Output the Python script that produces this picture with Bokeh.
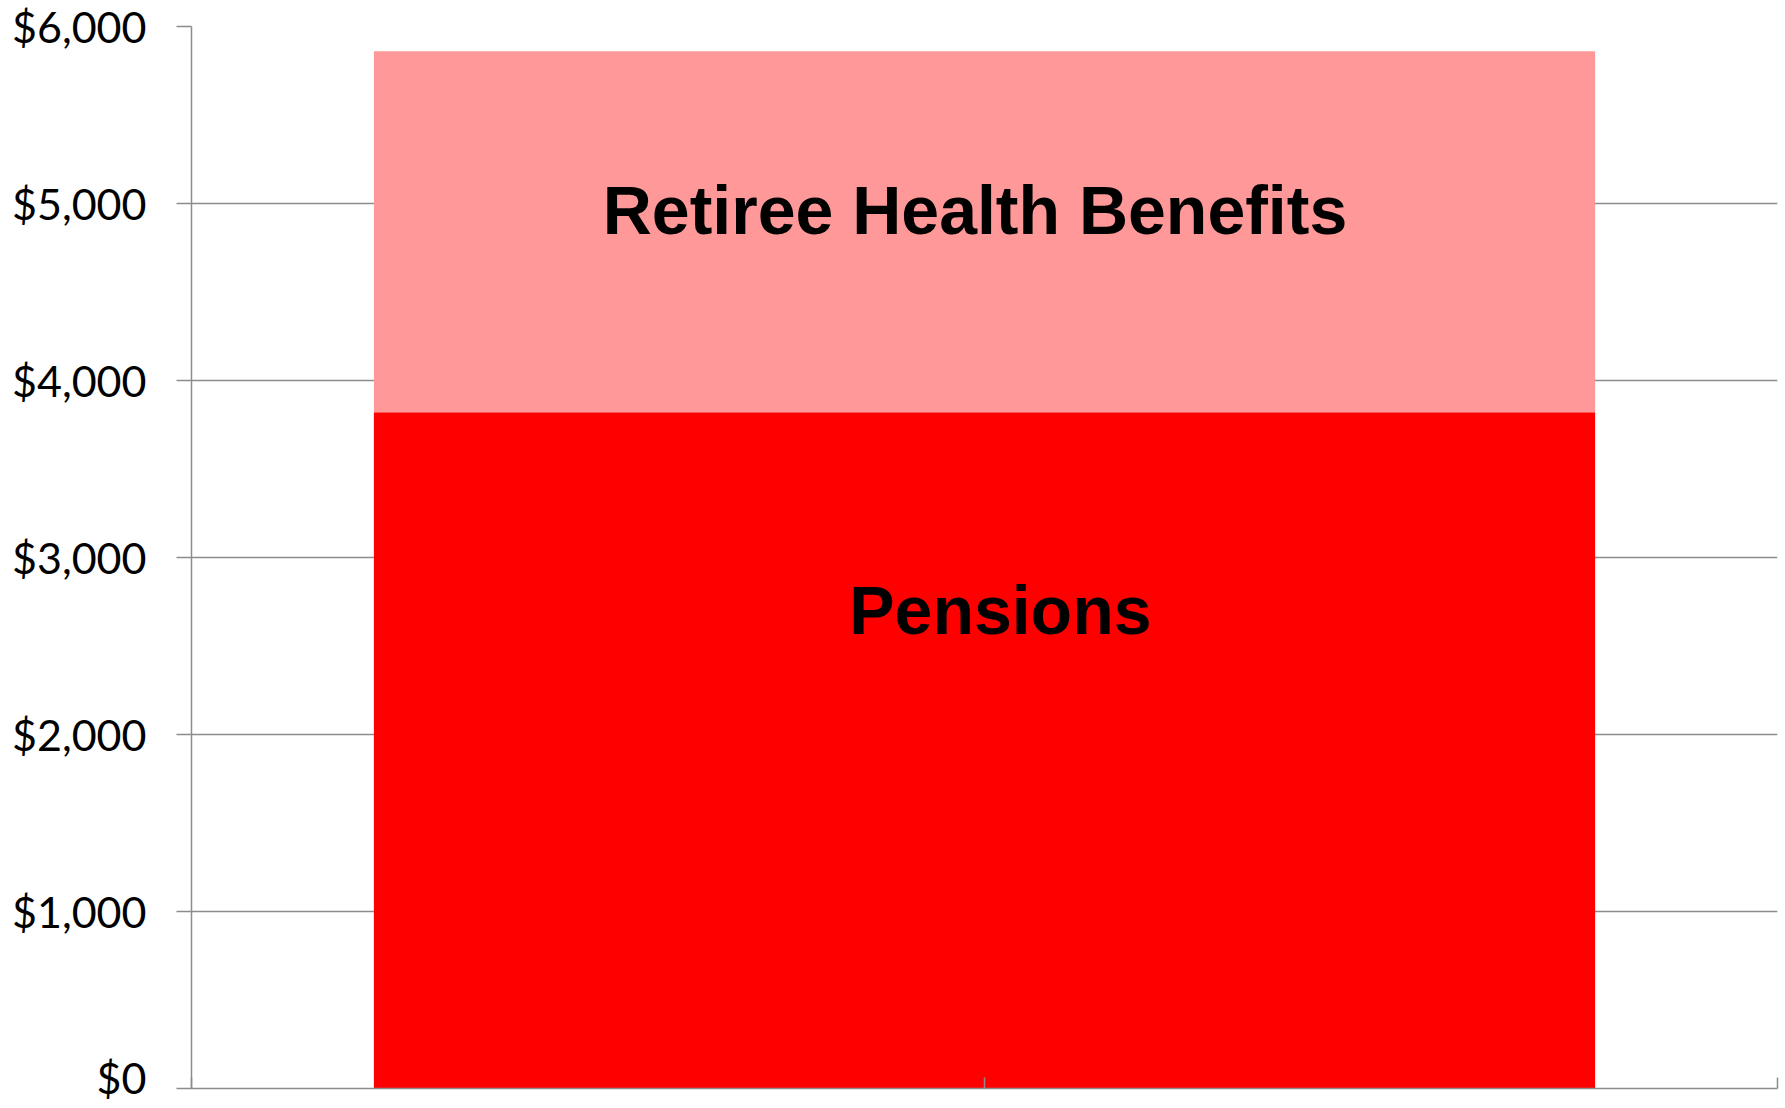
from bokeh.plotting import figure
from bokeh.models import Range1d, FixedTicker, NumeralTickFormatter, ColumnDataSource
from bokeh.core.properties import value
from bokeh.embed import file_html
from bokeh.resources import INLINE

# ---- data ----
categories = ["Total"]
pensions = [3820]
retiree_health = [2040]
series_labels = ["Pensions", "Retiree Health Benefits"]
series_colors = ["#FF0000", "#FF9999"]
y_ticks = [0, 1000, 2000, 3000, 4000, 5000, 6000]

p = figure(output_backend="svg", toolbar_location=None,
           frame_width=1586, frame_height=1062,
           min_border_left=191, min_border_top=26, min_border_right=2, min_border_bottom=14,
           x_range=Range1d(0, 1), y_range=Range1d(0, 6000))
p.outline_line_color = None
p.background_fill_color = "white"
p.border_fill_color = "white"

xc = [0.5]
bottoms2 = [a for a in pensions]
tops2 = [a + b for a, b in zip(pensions, retiree_health)]

p.vbar(x=xc, width=0.77, bottom=[0] * len(pensions), top=pensions,
       fill_color=series_colors[0], line_color=None)
p.vbar(x=xc, width=0.77, bottom=bottoms2, top=tops2,
       fill_color=series_colors[1], line_color=None)

# labels inside segments
lab_src = ColumnDataSource(dict(
    x=[0.51, 0.494],
    y=[pensions[0] * 0.708, bottoms2[0] + retiree_health[0] * 0.56],
    t=[series_labels[0], series_labels[1]],
))
p.text(x="x", y="y", text="t", source=lab_src,
       text_font=value("Liberation Sans"),
       text_font_style="bold",
       text_font_size="68px", text_color="black",
       text_align="center", text_baseline="middle")

# grid
p.xgrid.grid_line_color = None
p.ygrid.grid_line_color = "#8C8C8C"
p.ygrid.grid_line_width = 1.5
p.ygrid.ticker = FixedTicker(ticks=y_ticks)

# y axis
yax = p.yaxis[0]
yax.ticker = FixedTicker(ticks=y_ticks)
yax.formatter = NumeralTickFormatter(format="$0,0")
yax.axis_line_color = "#8C8C8C"
yax.axis_line_width = 1.5
yax.major_tick_line_color = "#8C8C8C"
yax.major_tick_line_width = 1.5
yax.major_tick_out = 15
yax.major_tick_in = 0
yax.minor_tick_line_color = None
yax.major_label_standoff = 30
yax.major_label_text_font = "Lato"
yax.major_label_text_font_size = "43px"
yax.major_label_text_color = "black"

# x axis
xax = p.xaxis[0]
xax.ticker = FixedTicker(ticks=[0, 0.5, 1])
xax.major_label_overrides = {0: "", 0.5: "", 1: ""}
xax.axis_line_color = "#8C8C8C"
xax.axis_line_width = 1.5
xax.major_tick_line_color = "#8C8C8C"
xax.major_tick_line_width = 1.5
xax.major_tick_in = 11
xax.major_tick_out = 0
xax.minor_tick_line_color = None
xax.major_label_standoff = 0

open("out.html", "w").write(file_html(p, INLINE))
